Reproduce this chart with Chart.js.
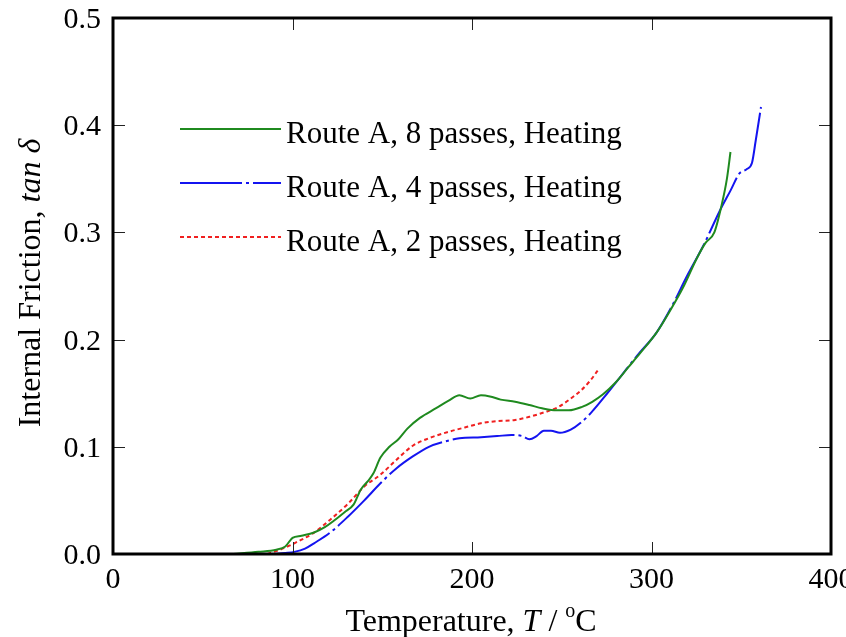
<!DOCTYPE html>
<html>
<head>
<meta charset="utf-8">
<script src="https://cdn.jsdelivr.net/npm/chart.js@4/dist/chart.umd.min.js"></script>
<style>
  html, body { margin: 0; padding: 0; background: #fff; }
  #wrap { width: 846px; height: 637px; }
</style>
</head>
<body>
<div id="wrap"><canvas id="c" width="846" height="637"></canvas></div>
<script>
// ---- data ----
const seriesNames = [
  "Route A, 8 passes, Heating",
  "Route A, 4 passes, Heating",
  "Route A, 2 passes, Heating"
];
const temp8 = [67, 81, 91, 96, 100, 105, 112, 118, 123, 129, 134, 138, 142, 145, 149, 154, 159, 164, 171, 180, 187, 193, 199, 205, 210, 216, 224, 232, 239, 247, 254, 261, 267, 273, 280, 287, 294, 303, 310, 318, 325, 330, 335, 339, 342, 344];
const tan8  = [0.000, 0.002, 0.004, 0.007, 0.015, 0.017, 0.020, 0.025, 0.031, 0.039, 0.046, 0.060, 0.068, 0.075, 0.090, 0.100, 0.107, 0.117, 0.127, 0.136, 0.143, 0.148, 0.145, 0.148, 0.147, 0.144, 0.142, 0.139, 0.136, 0.134, 0.134, 0.137, 0.142, 0.149, 0.160, 0.174, 0.188, 0.207, 0.226, 0.250, 0.275, 0.290, 0.300, 0.325, 0.350, 0.375];

const temp4 = [89, 96, 101, 107, 112, 121, 131, 140, 149, 158, 167, 176, 185, 193, 205, 214, 222, 228, 232, 236, 240, 244, 249, 255, 261, 267, 274, 283, 292, 303, 311, 320, 329, 338, 344, 349, 353, 356, 358, 361];
const tan4  = [0.000, 0.001, 0.002, 0.005, 0.010, 0.020, 0.035, 0.050, 0.066, 0.080, 0.091, 0.100, 0.105, 0.108, 0.109, 0.110, 0.111, 0.110, 0.107, 0.110, 0.115, 0.115, 0.113, 0.116, 0.123, 0.133, 0.147, 0.166, 0.185, 0.207, 0.230, 0.260, 0.288, 0.320, 0.339, 0.355, 0.359, 0.365, 0.385, 0.417];

const temp2 = [86, 93, 101, 112, 121, 131, 140, 149, 158, 167, 176, 187, 196, 205, 214, 224, 232, 240, 248, 255, 261, 266, 270];
const tan2  = [0.000, 0.004, 0.010, 0.020, 0.032, 0.047, 0.063, 0.074, 0.088, 0.101, 0.108, 0.114, 0.118, 0.122, 0.124, 0.125, 0.128, 0.132, 0.137, 0.145, 0.153, 0.162, 0.171];

const xTickValues = [0, 100, 200, 300, 400];
const xTickLabels = ["0", "100", "200", "300", "400"];
const yTickValues = [0, 0.1, 0.2, 0.3, 0.4, 0.5];
const yTickLabels = ["0.0", "0.1", "0.2", "0.3", "0.4", "0.5"];

// ---- styles ----
const colors = ["#1f8a1f", "#1414f0", "#f02020"];
const dashes = [[], [62, 4, 3, 4], [4, 3]];
const SERIF = '"Liberation Serif", "Times New Roman", serif';

function pts(xs, ys) { return xs.map((x, i) => ({ x: x, y: ys[i] })); }
const seriesData = [pts(temp8, tan8), pts(temp4, tan4), pts(temp2, tan2)];

const decor = {
  id: 'decor',
  afterDatasetsDraw(chart) {
    const ctx = chart.ctx;
    const xs = chart.scales.x, ys = chart.scales.y;
    const a = chart.chartArea;
    ctx.save();
    // inward ticks
    ctx.strokeStyle = '#222';
    ctx.lineWidth = 1;
    ctx.beginPath();
    xTickValues.forEach(v => {
      if (v <= xs.min || v >= xs.max) return;
      const px = Math.round(xs.getPixelForValue(v)) + 0.5;
      ctx.moveTo(px, a.bottom); ctx.lineTo(px, a.bottom - 12);
      ctx.moveTo(px, a.top); ctx.lineTo(px, a.top + 12);
    });
    yTickValues.forEach(v => {
      if (v <= ys.min || v >= ys.max) return;
      const py = Math.round(ys.getPixelForValue(v)) + 0.5;
      ctx.moveTo(a.left, py); ctx.lineTo(a.left + 12, py);
      ctx.moveTo(a.right, py); ctx.lineTo(a.right - 12, py);
    });
    ctx.stroke();
    // frame
    ctx.strokeStyle = '#000';
    ctx.lineWidth = 3;
    ctx.strokeRect(a.left, a.top, a.right - a.left, a.bottom - a.top);

    // tick labels
    ctx.fillStyle = '#000';
    ctx.font = '30px ' + SERIF;
    ctx.textBaseline = 'alphabetic';
    ctx.textAlign = 'right';
    yTickValues.forEach((v, i) => {
      const py = ys.getPixelForValue(v);
      ctx.fillText(yTickLabels[i], a.left - 12, py + 10);
    });
    ctx.textAlign = 'center';
    xTickValues.forEach((v, i) => {
      const px = xs.getPixelForValue(v);
      ctx.fillText(xTickLabels[i], px, a.bottom + 34);
    });

    // x title: Temperature, T / °C
    const segX = [
      { t: 'Temperature, ', f: '32px ' + SERIF, dy: 0 },
      { t: 'T', f: 'italic 32px ' + SERIF, dy: 0 },
      { t: ' / ', f: '32px ' + SERIF, dy: 0 },
      { t: 'o', f: '20px ' + SERIF, dy: -14 },
      { t: 'C', f: '32px ' + SERIF, dy: 0 }
    ];
    let total = 0;
    segX.forEach(s => { ctx.font = s.f; s.w = ctx.measureText(s.t).width; total += s.w; });
    let cx = 471 - total / 2;
    ctx.textAlign = 'left';
    segX.forEach(s => { ctx.font = s.f; ctx.fillText(s.t, cx, 631 + s.dy); cx += s.w; });

    // y title: Internal Friction, tan δ
    const segY = [
      { t: 'Internal Friction, ', f: '32px ' + SERIF },
      { t: 'tan \u03B4', f: 'italic 32px ' + SERIF }
    ];
    total = 0;
    segY.forEach(s => { ctx.font = s.f; s.w = ctx.measureText(s.t).width; total += s.w; });
    ctx.save();
    ctx.translate(40, 283);
    ctx.rotate(-Math.PI / 2);
    let cy = -total / 2;
    segY.forEach(s => { ctx.font = s.f; ctx.fillText(s.t, cy, 0); cy += s.w; });
    ctx.restore();

    // legend
    const rows = [129, 183, 237];
    rows.forEach((ry, i) => {
      ctx.strokeStyle = colors[i];
      ctx.lineWidth = 2;
      ctx.setLineDash(dashes[i]);
      ctx.beginPath();
      ctx.moveTo(180, ry); ctx.lineTo(281, ry);
      ctx.stroke();
      ctx.setLineDash([]);
      ctx.fillStyle = '#000';
      ctx.font = '31px ' + SERIF;
      ctx.textAlign = 'left';
      ctx.fillText(seriesNames[i], 286, ry + 14);
    });
    ctx.restore();
  }
};

new Chart(document.getElementById('c'), {
  type: 'line',
  data: {
    datasets: seriesNames.map((n, i) => ({
      label: n,
      data: seriesData[i],
      borderColor: colors[i],
      borderWidth: 2,
      borderDash: dashes[i],
      pointRadius: 0,
      fill: false,
      cubicInterpolationMode: 'monotone'
    }))
  },
  options: {
    responsive: false,
    animation: false,
    events: [],
    layout: { padding: { left: 113, right: 15, top: 18, bottom: 83 } },
    plugins: { legend: { display: false }, tooltip: { enabled: false } },
    scales: {
      x: { type: 'linear', min: 0, max: 400, display: false },
      y: { type: 'linear', min: 0, max: 0.5, display: false }
    }
  },
  plugins: [decor]
});
</script>
</body>
</html>
